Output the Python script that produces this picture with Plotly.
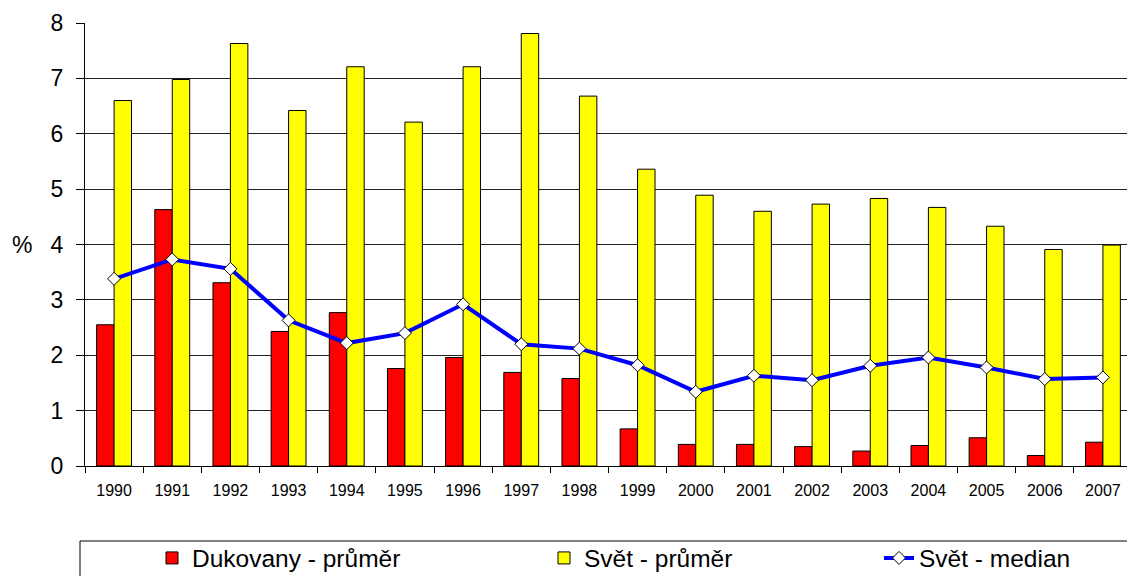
import plotly.graph_objects as go

years = [str(y) for y in range(1990, 2008)]
dukovany_avg = [2.55, 4.63, 3.31, 2.43, 2.77, 1.76, 1.96, 1.69, 1.58, 0.67, 0.39, 0.39, 0.35, 0.27, 0.37, 0.51, 0.19, 0.43]
world_avg = [6.60, 6.98, 7.63, 6.42, 7.21, 6.21, 7.21, 7.81, 6.68, 5.36, 4.89, 4.60, 4.73, 4.83, 4.67, 4.33, 3.91, 3.99]
world_median = [3.38, 3.73, 3.56, 2.63, 2.22, 2.40, 2.92, 2.20, 2.12, 1.82, 1.34, 1.63, 1.55, 1.81, 1.96, 1.78, 1.57, 1.60]
y_ticks = [0, 1, 2, 3, 4, 5, 6, 7, 8]

FONT = "Liberation Sans, Arial, sans-serif"

fig = go.Figure()
fig.add_trace(go.Bar(
    x=years, y=dukovany_avg, name="Dukovany - průměr",
    marker=dict(color="#ff0000", line=dict(color="#000000", width=1)),
    legend="legend",
))
fig.add_trace(go.Bar(
    x=years, y=world_avg, name="Svět - průměr",
    marker=dict(color="#ffff00", line=dict(color="#000000", width=1)),
    legend="legend2",
))
fig.add_trace(go.Scatter(
    x=years, y=world_median, name="Svět - median", mode="lines+markers",
    line=dict(color="#0000ff", width=4),
    marker=dict(symbol="diamond", size=10, color="#ffffff", line=dict(color="#000000", width=1)),
    legend="legend3",
))

# page body has an 8px margin; target plot area on screen: x 85..1132, y 23..466
OFF = 8
W, H = 1135, 576
L = 85 - OFF
T = 23 - OFF
R = W - (1132 - OFF)
B = H - (466 - OFF)
pw, ph = W - L - R, H - T - B

def px_x(p):
    return (p - OFF - L) / pw

def px_y(p):
    return (H - B - (p - OFF)) / ph

legend_common = dict(
    orientation="h", bgcolor="rgba(0,0,0,0)", borderwidth=0,
    font=dict(family=FONT, size=24.5, color="#000000"),
    yanchor="middle", y=px_y(558), xanchor="left",
)

fig.update_layout(
    width=W, height=H,
    margin=dict(l=L, r=R, t=T, b=B, autoexpand=False),
    paper_bgcolor="#ffffff", plot_bgcolor="#ffffff",
    font=dict(family=FONT, color="#000000"),
    barmode="group", bargap=0.40, bargroupgap=0.0,
    showlegend=True,
    legend=dict(**legend_common, x=px_x(152)),
    legend2=dict(**legend_common, x=px_x(544)),
    legend3=dict(**legend_common, x=px_x(879)),
    xaxis=dict(
        type="category", range=[-0.5, len(years) - 0.5],
        tickson="boundaries", ticks="outside", ticklen=6,
        tickcolor="#000000", showline=True, linecolor="#000000", linewidth=1,
        showgrid=False, tickfont=dict(size=16, family=FONT), ticklabelstandoff=10,
    ),
    yaxis=dict(
        range=[0, 8], tickvals=y_ticks, ticks="outside", ticklen=8,
        tickcolor="#000000", showline=True, linecolor="#000000", linewidth=1,
        showgrid=True, gridcolor="#222222", gridwidth=1,
        tickfont=dict(size=23, family=FONT), ticklabelstandoff=8, zeroline=False,
    ),
    shapes=[dict(
        type="rect", xref="paper", yref="paper",
        x0=px_x(80), x1=px_x(1145), y0=px_y(541), y1=px_y(600),
        line=dict(color="#000000", width=1), fillcolor="rgba(0,0,0,0)",
    )],
    annotations=[dict(
        text="%", xref="paper", yref="y", x=px_x(22), y=4.0,
        showarrow=False, font=dict(family=FONT, size=23, color="#000000"),
        xanchor="center", yanchor="middle",
    )],
)

fig.write_html("out.html")
